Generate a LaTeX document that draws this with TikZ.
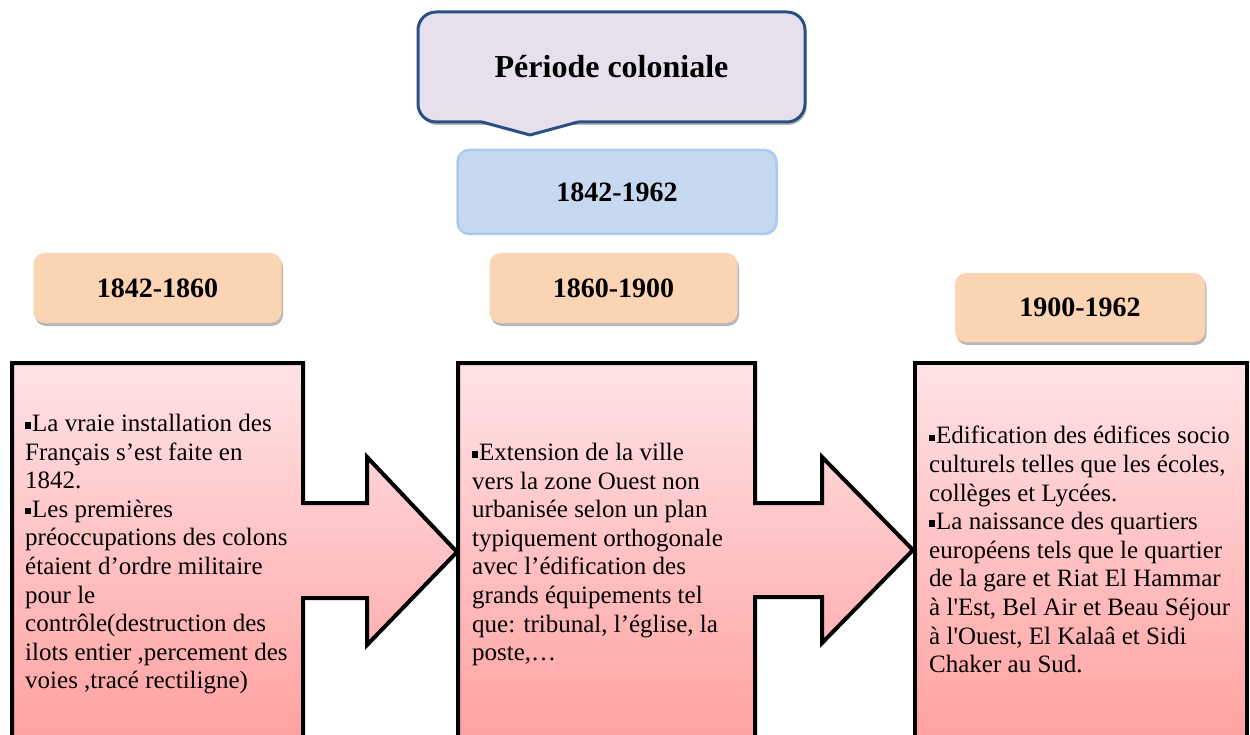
\documentclass[tikz,border=0pt]{standalone}
\usepackage{fontspec}
\setmainfont{Liberation Serif}
\usetikzlibrary{shadows}
\definecolor{lav}{HTML}{E5E0EC}
\definecolor{lavbord}{HTML}{2B4F80}
\definecolor{bluefill}{HTML}{C6D9F1}
\definecolor{bluebord}{HTML}{A9CBF2}
\definecolor{orangefill}{HTML}{FBD4B4}
\definecolor{pinktop}{HTML}{FFE3E6}
\definecolor{pinkbot}{HTML}{FFA0A0}
\newcommand{\sqb}{\rule[0.12em]{0.25em}{0.25em}\hspace{0.03em}}
\tikzset{
  softshadow/.style={drop shadow={shadow xshift=1.5pt, shadow yshift=-3pt, opacity=0.28, fill=black}},
  titlebox/.style={draw=lavbord, line width=3pt, fill=lav, rounded corners=18pt,
    minimum width=387pt, minimum height=110pt, inner sep=0pt,
    font=\bfseries\fontsize{32}{34}\selectfont, softshadow},
  periodbox/.style={draw=bluebord, line width=2.5pt, fill=bluefill, rounded corners=12pt,
    minimum width=319pt, minimum height=84pt, inner sep=0pt,
    font=\bfseries\fontsize{28}{30}\selectfont},
  datebox/.style={fill=orangefill, rounded corners=11pt, minimum width=248pt,
    minimum height=70pt, inner sep=0pt, font=\bfseries\fontsize{28}{30}\selectfont, softshadow},
  panel/.style={draw=black, line width=4pt, line join=miter, top color=pinktop, bottom color=pinkbot},
  bodytext/.style={align=left, inner sep=0pt, anchor=north west,
    font=\fontsize{25}{28.6}\selectfont}
}
\begin{document}
\begin{tikzpicture}[x=1pt,y=-1pt]
\useasboundingbox (0,0) rectangle (1250,735);
% title callout
\node[titlebox] (title) at (611.5,67) {Période coloniale};
\fill[lav] (482,119) -- (578,119) -- (578,122) -- (530,135) -- (482,122) -- cycle;
\draw[draw=lavbord, line width=3pt, line join=round] (482,122) -- (530,135) -- (578,122);
% overall period
\node[periodbox] (p0) at (617,192) {1842-1962};
% sub periods
\node[datebox] (p1) at (157.5,288) {1842-1860};
\node[datebox] (p2) at (613.5,288) {1860-1900};
\node[datebox, minimum width=250pt, minimum height=69pt] (p3) at (1080,307.5) {1900-1962};
% panels with arrows
\path[panel] (12,363) -- (303,363) -- (303,503) -- (367,503) -- (367,457) -- (457,552)
  -- (367,645) -- (367,598) -- (303,598) -- (303,745) -- (12,745) -- cycle;
\path[panel] (458,363) -- (755,363) -- (755,503) -- (822,503) -- (822,457) -- (913,550)
  -- (822,643) -- (822,597) -- (755,597) -- (755,745) -- (458,745) -- cycle;
\path[panel] (915,363) -- (1247,363) -- (1247,745) -- (915,745) -- cycle;
% texts
\node[bodytext] (t1) at (25,414) {\sqb La vraie installation des\\
Français s’est faite en\\
1842.\\
\sqb Les premières\\
préoccupations des colons\\
étaient d’ordre militaire\\
pour le\\
contrôle(destruction des\\
ilots entier ,percement des\\
voies ,tracé rectiligne)};
\node[bodytext] (t2) at (472,443) {\sqb Extension de la ville\\
vers la zone Ouest non\\
urbanisée selon un plan\\
typiquement orthogonale\\
avec l’édification des\\
grands équipements tel\\
que: tribunal, l’église, la\\
poste,…};
\node[bodytext] (t3) at (929,426) {\sqb Edification des édifices socio\\
culturels telles que les écoles,\\
collèges et Lycées.\\
\sqb La naissance des quartiers\\
européens tels que le quartier\\
de la gare et Riat El Hammar\\
à l\textquotesingle Est, Bel Air et Beau Séjour\\
à l\textquotesingle Ouest, El Kalaâ et Sidi\\
Chaker au Sud.};
\end{tikzpicture}
\end{document}
